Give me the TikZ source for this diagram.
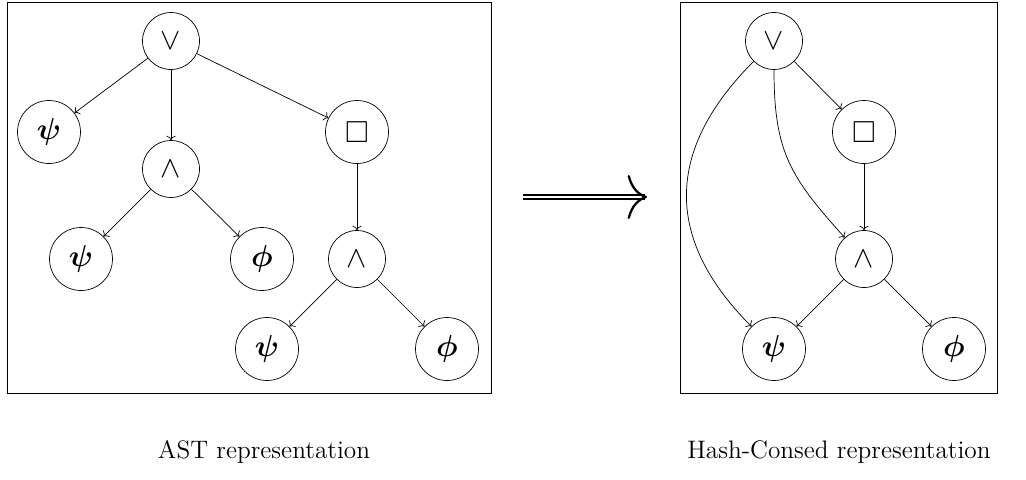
\documentclass[tikz,border=0pt]{standalone}
\usepackage{amsmath,amssymb}
\usepackage{tikz}
\usetikzlibrary{positioning,arrows.meta}

\begin{document}
\begin{tikzpicture}[auto, on grid, every loop/.style={},
		main node/.style={circle,draw,minimum size=1.14cm,inner sep=0pt,font=\LARGE},
		leaf node/.style={main node,minimum size=1.26cm}]
	\useasboundingbox (0,0) rectangle (20.52,-9.58);
	
			% AST
			\draw (0.14,-0.04) rectangle (9.82,-7.86);
			\node[main node] (1) at (3.42,-0.82) {$\vee$};
			\node[leaf node] (2) [below left=1.82cm and 2.44cm of 1] {$\boldsymbol{\psi}$};
			\node[main node] (3) [below=2.56cm of 1] {$\wedge$};
			\node[leaf node] (4) [below right=1.82cm and 3.72cm of 1] {$\square$};
			\node[leaf node] (5) [below left=1.8cm and 1.8cm of 3] {$\boldsymbol{\psi}$};
			\node[leaf node] (6) [below right=1.8cm and 1.82cm of 3] {$\boldsymbol{\phi}$};
			\node[main node] (7) [below=2.54cm of 4] {$\wedge$};
			\node[leaf node] (8) [below left=1.8cm and 1.8cm of 7] {$\boldsymbol{\psi}$};
			\node[leaf node] (9) [below right=1.8cm and 1.8cm of 7] {$\boldsymbol{\phi}$};
			
			\path[->]
			(1)	edge (2)
			edge (3)
			edge (4)
			(3)	edge (5)
			edge (6)
			(4)	edge (7)
			(7)	edge (8)
			edge (9);
			
			% Hash-Consed
			\draw (13.6,-0.04) rectangle (19.94,-7.86);
			\node[main node] (10) at (15.48,-0.82) {$\vee$};
			\node[leaf node] (11) [below right=1.82cm and 1.8cm of 10] {$\square$};
			\node[main node] (12) [below=2.54cm of 11] {$\wedge$};
			\node[leaf node] (13) [below left=1.8cm and 1.8cm of 12] {$\boldsymbol{\psi}$};
			\node[leaf node] (14) [below right=1.8cm and 1.8cm of 12] {$\boldsymbol{\phi}$};
			
			\path[->]
			(10) edge[out=225,in=135,looseness=1.2] (13)
			edge[out=270,in=132,looseness=1.15] (12)
			edge (11)
			(11) edge (12)
			(12) edge (13)
			edge (14);
			
			% big arrow
			\coordinate (from) at (10.46,-3.94);
			\coordinate (to) at (12.94,-3.94);
			\draw[line width=1.1pt, double distance=1.3pt,
				-{Computer Modern Rightarrow[length=11pt,width=25pt,line width=1.3pt]}] (from) -- (to);
			
			\node[font=\Large] (ast) at (5.28,-9.04) {AST representation};
			\node[font=\Large] (hc) at (16.78,-9.04) {Hash-Consed representation};
		\end{tikzpicture}
\end{document}
